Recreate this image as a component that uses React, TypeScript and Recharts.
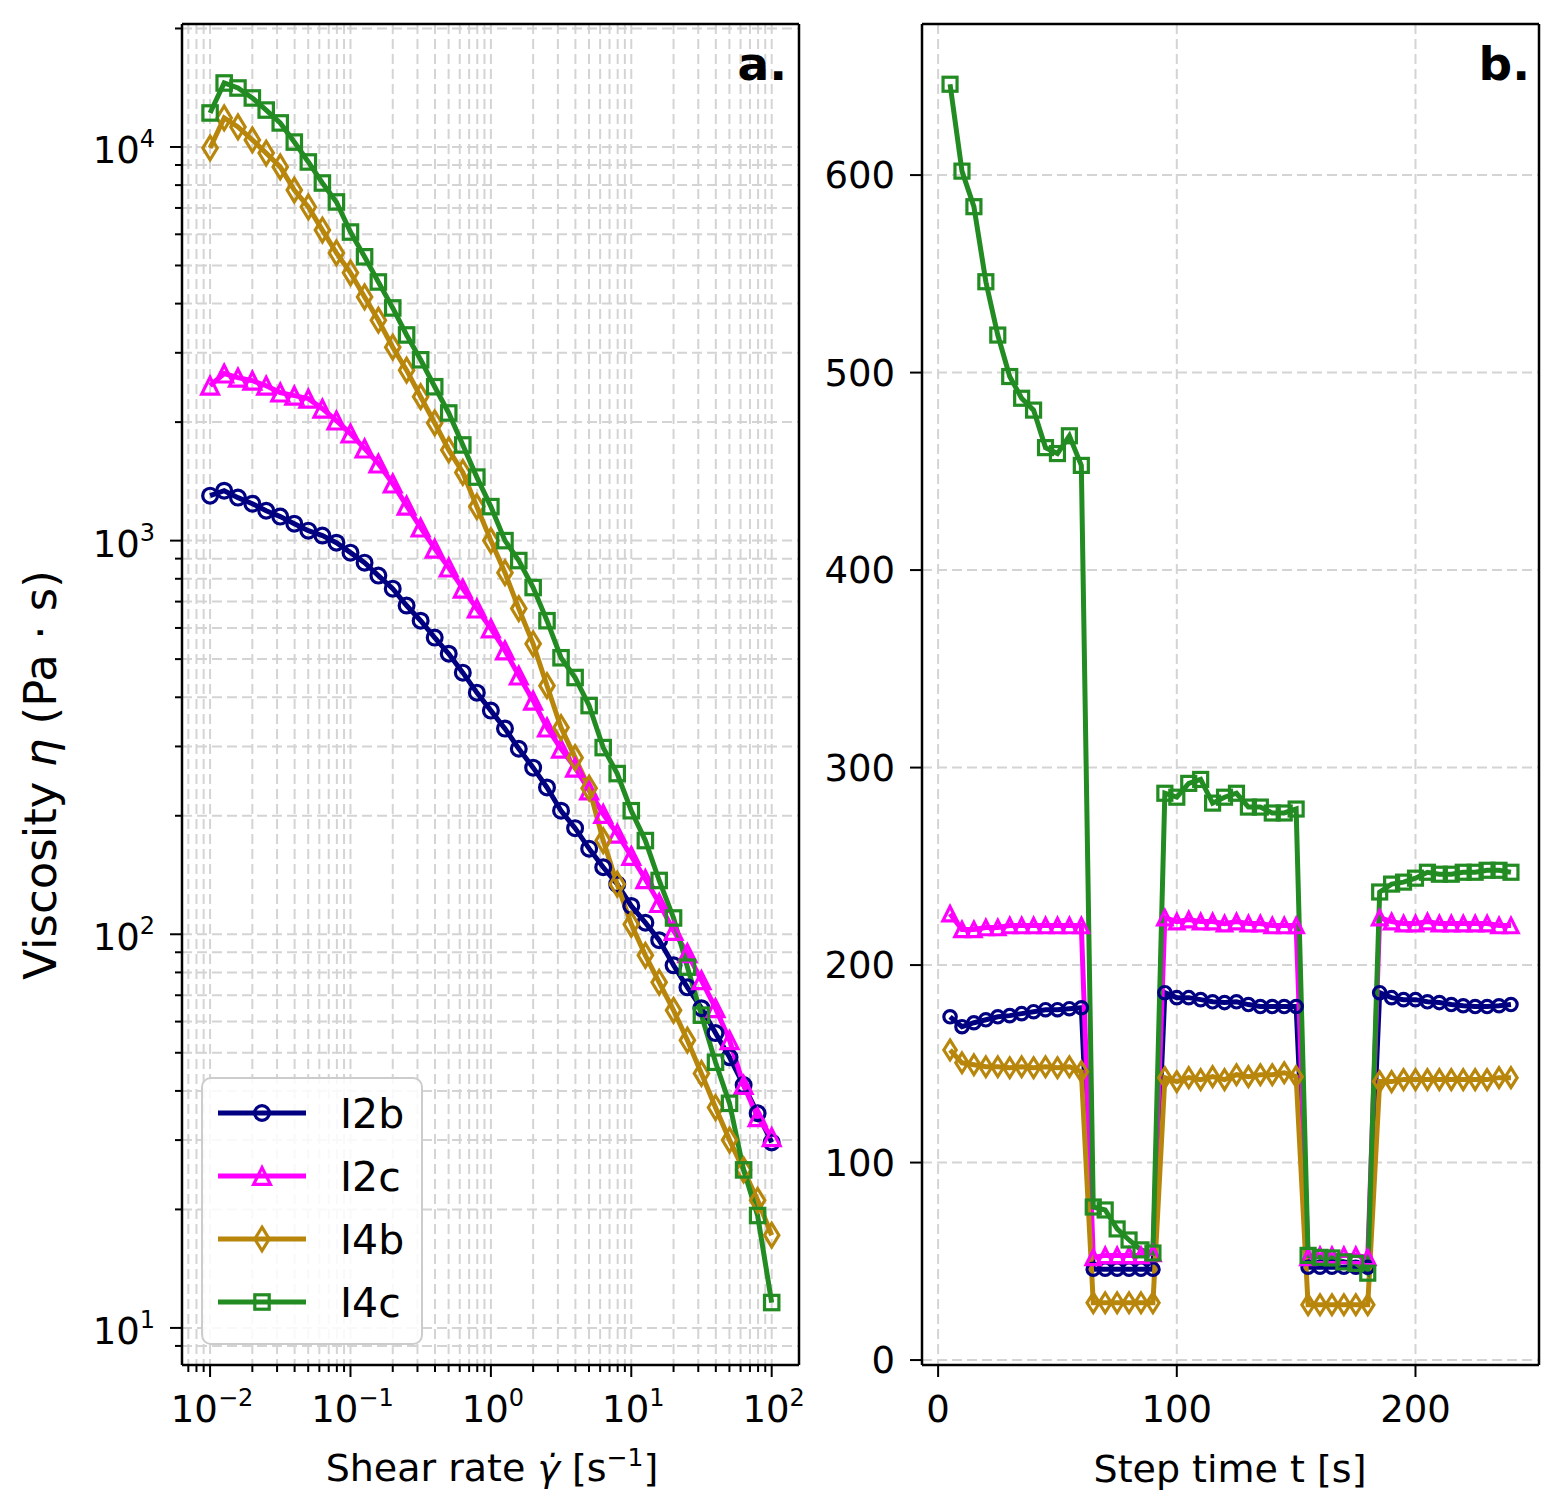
import React from 'react';
import { LineChart, Line, XAxis, YAxis, CartesianGrid, Legend, Customized, ReferenceLine } from 'recharts';

const FONT = '"DejaVu Sans", sans-serif';

// ---- Panel a: viscosity vs shear rate ----
const shearRate = [
  0.01, 0.0126, 0.0158, 0.02, 0.0251, 0.0316, 0.0398, 0.0501, 0.0631, 0.0794,
  0.1, 0.126, 0.158, 0.2, 0.251, 0.316, 0.398, 0.501, 0.631, 0.794,
  1, 1.26, 1.58, 2, 2.51, 3.16, 3.98, 5.01, 6.31, 7.94,
  10, 12.6, 15.8, 20, 25.1, 31.6, 39.8, 50.1, 63.1, 79.4, 100,
];
const etaI2b = [1301, 1339, 1286, 1241, 1191, 1151, 1104, 1060, 1030, 988, 932, 879, 815, 755, 684, 626, 567, 516, 462, 411, 370, 333, 296, 265, 236, 206, 186, 165, 148, 134, 118, 107, 96.6, 83.4, 73.3, 64.9, 56.1, 48.7, 41.4, 35.1, 29.6];
const etaI2c = [2475, 2656, 2594, 2548, 2475, 2377, 2335, 2294, 2164, 2018, 1870, 1713, 1569, 1396, 1227, 1079, 954, 854, 755, 672, 598, 526, 454, 392, 335, 296, 265, 232, 202, 180, 158, 138, 120, 102, 89.5, 76.4, 64.9, 53.8, 41.4, 34.3, 30.5];
const etaI4b = [9940, 11850, 11240, 10420, 9650, 8900, 7770, 7040, 6150, 5380, 4790, 4160, 3630, 3100, 2710, 2320, 1990, 1700, 1490, 1220, 1000, 829, 672, 547, 428, 335, 281, 235, 173, 134, 106, 88.4, 75.5, 64.1, 53.8, 44.3, 36.3, 30.0, 25.2, 21.1, 17.2];
const etaI4c = [12200, 14540, 14120, 13320, 12410, 11510, 10290, 9160, 8100, 7250, 6080, 5260, 4540, 3900, 3330, 2880, 2460, 2110, 1750, 1450, 1220, 1000, 890, 760, 626, 504, 449, 381, 298, 256, 206, 173, 137, 110, 82.5, 62.3, 47.3, 37.2, 25.2, 19.3, 11.6];

// ---- Panel b: viscosity vs step time ----
const stepTime = [
  5, 10, 15, 20, 25, 30, 35, 40, 45, 50, 55, 60,
  65, 70, 75, 80, 85, 90,
  95, 100, 105, 110, 115, 120, 125, 130, 135, 140, 145, 150,
  155, 160, 165, 170, 175, 180,
  185, 190, 195, 200, 205, 210, 215, 220, 225, 230, 235, 240,
];
const stepI2b = [
  173.8, 168.8, 170.8, 172.3, 173.8, 174.4, 175.4, 176.4, 177.4, 177.4, 177.9, 178.4,
  46, 46, 46, 46, 46, 46,
  186, 183.5, 183.5, 182.5, 181.4, 181, 181.4, 180, 179, 179, 179, 179,
  47, 47, 47, 47, 47, 47,
  186, 183.5, 182.5, 182.5, 181.4, 181, 180, 179.4, 179, 179, 179.4, 180,
];
const stepI2c = [
  226, 218, 218, 219, 219, 220, 220, 220, 220, 220, 220, 220,
  52, 53, 53, 53, 53, 54,
  224, 222, 223, 222, 222, 221, 222, 221, 221, 220, 220, 220,
  52, 53, 53, 53, 53, 52,
  224, 222, 221, 221, 222, 221, 221, 221, 221, 221, 220, 220,
];
const stepI4b = [
  157, 150.5, 149.5, 148.5, 148.5, 148, 148.5, 148, 148.5, 148, 148.5, 146,
  29, 29, 29, 29, 29, 29,
  143, 141, 143, 142, 143.5, 142, 144.5, 143.5, 144.5, 144.5, 145.5, 143.5,
  28, 28, 28, 28, 28, 28,
  141, 141, 142, 142, 142, 142, 142, 142, 142, 142, 143, 143,
];
const stepI4c = [
  646, 602, 584, 546, 519, 498, 487, 481, 462, 459, 468, 453,
  77.5, 76, 66.4, 60.8, 55.8, 54.2,
  287, 285, 292, 294, 282, 285, 287, 280, 280, 277, 277, 279,
  53, 52, 51.7, 49.7, 49, 44,
  237, 241, 242, 244, 247, 246, 246, 247, 247, 248, 248, 247,
];

const seriesNames = ['I2b', 'I2c', 'I4b', 'I4c'];
const seriesColors = ['#000080', '#ff00ff', '#b8860b', '#228b22'];
const seriesShapes = ['circle', 'triangle', 'diamond', 'square'];

// ---- Ticks ----
const xLogTicks = [
  0.007, 0.008, 0.009, 0.01, 0.02, 0.03, 0.04, 0.05, 0.06, 0.07, 0.08, 0.09,
  0.1, 0.2, 0.3, 0.4, 0.5, 0.6, 0.7, 0.8, 0.9,
  1, 2, 3, 4, 5, 6, 7, 8, 9,
  10, 20, 30, 40, 50, 60, 70, 80, 90, 100,
];
const yLogTicks = [
  9, 10, 20, 30, 40, 50, 60, 70, 80, 90,
  100, 200, 300, 400, 500, 600, 700, 800, 900,
  1000, 2000, 3000, 4000, 5000, 6000, 7000, 8000, 9000,
  10000, 20000,
];
const stepXTicks = [0, 100, 200];
const stepYTicks = [0, 100, 200, 300, 400, 500, 600];

const leftXDomain = [0.00631, 156.5];
const leftYDomain = [8.05, 20530];
const rightXDomain = [-6.75, 251.75];
const rightYDomain = [-2.5, 676.5];

const leftData = shearRate.map((x, i) => ({
  x, I2b: etaI2b[i], I2c: etaI2c[i], I4b: etaI4b[i], I4c: etaI4c[i],
}));
const rightData = stepTime.map((t, i) => ({
  t, I2b: stepI2b[i], I2c: stepI2c[i], I4b: stepI4b[i], I4c: stepI4c[i],
}));

type Sz = { r: number; tri: number; dw: number; dh: number; sq: number; sw: number };
const leftSz: Sz = { r: 7.4, tri: 8.4, dw: 7.2, dh: 11.8, sq: 7.2, sw: 3.2 };
const rightSz: Sz = { r: 6.2, tri: 7.2, dw: 6.2, dh: 9.8, sq: 7, sw: 3.2 };

function Marker({ shape, cx, cy, color, sz }: { shape: string; cx: number; cy: number; color: string; sz: Sz }) {
  const common = { fill: 'none', stroke: color, strokeWidth: sz.sw };
  if (shape === 'circle') return <circle cx={cx} cy={cy} r={sz.r} {...common} />;
  if (shape === 'triangle') {
    const s = sz.tri;
    return <polygon points={`${cx},${cy - s} ${cx - s},${cy + s} ${cx + s},${cy + s}`} {...common} />;
  }
  if (shape === 'diamond') {
    return (
      <polygon
        points={`${cx},${cy - sz.dh} ${cx + sz.dw},${cy} ${cx},${cy + sz.dh} ${cx - sz.dw},${cy}`}
        {...common}
      />
    );
  }
  return <rect x={cx - sz.sq} y={cy - sz.sq} width={2 * sz.sq} height={2 * sz.sq} {...common} />;
}

const makeDot = (shape: string, color: string, sz: Sz) => (p: any) => {
  if (p.cx == null || p.cy == null || isNaN(p.cx) || isNaN(p.cy)) return <g key={p.index} />;
  return <Marker key={p.index} shape={shape} cx={p.cx} cy={p.cy} color={color} sz={sz} />;
};

const isMajorLog = (v: number) => {
  const l = Math.log10(v);
  return Math.abs(l - Math.round(l)) < 1e-6;
};
const expLabel = (v: number) => {
  const e = Math.round(Math.log10(v));
  return e < 0 ? `\u2212${-e}` : `${e}`;
};

const LogYTick = (props: any) => {
  const { x, y, payload } = props;
  const v = payload.value;
  const major = isMajorLog(v);
  return (
    <g>
      <line x1={x - (major ? 12 : 7)} x2={x} y1={y} y2={y} stroke="#000" strokeWidth={2} />
      {major && (
        <text x={x - 27} y={y + 16} textAnchor="end" fontFamily={FONT} fontSize={37} fill="#000">
          <tspan>10</tspan>
          <tspan dy={-16} fontSize={24}>{expLabel(v)}</tspan>
        </text>
      )}
    </g>
  );
};

const LogXTick = (props: any) => {
  const { x, y, payload } = props;
  const v = payload.value;
  const major = isMajorLog(v);
  return (
    <g>
      <line x1={x} x2={x} y1={y} y2={y + (major ? 12 : 7)} stroke="#000" strokeWidth={2} />
      {major && (
        <text x={x + 2} y={y + 57} textAnchor="middle" fontFamily={FONT} fontSize={37} fill="#000">
          <tspan>10</tspan>
          <tspan dy={-16} fontSize={24}>{expLabel(v)}</tspan>
        </text>
      )}
    </g>
  );
};

const LinYTick = (props: any) => {
  const { x, y, payload } = props;
  return (
    <g>
      <line x1={x - 12} x2={x} y1={y} y2={y} stroke="#000" strokeWidth={2} />
      <text x={x - 27} y={y + 13} textAnchor="end" fontFamily={FONT} fontSize={37} fill="#000">
        {payload.value}
      </text>
    </g>
  );
};

const LinXTick = (props: any) => {
  const { x, y, payload } = props;
  return (
    <g>
      <line x1={x} x2={x} y1={y} y2={y + 12} stroke="#000" strokeWidth={2} />
      <text x={x} y={y + 57} textAnchor="middle" fontFamily={FONT} fontSize={37} fill="#000">
        {payload.value}
      </text>
    </g>
  );
};

const LegendBox = () => (
  <svg width={223} height={269} style={{ display: 'block' }}>
    <rect x={1} y={1} width={220} height={266} rx={9} fill="rgba(255,255,255,0.85)" stroke="#cccccc" strokeWidth={2} />
    {seriesNames.map((n, i) => {
      const cy = 36 + i * 63;
      return (
        <g key={n}>
          <line x1={17} x2={105} y1={cy} y2={cy} stroke={seriesColors[i]} strokeWidth={5} />
          <Marker shape={seriesShapes[i]} cx={61} cy={cy} color={seriesColors[i]} sz={leftSz} />
          <text x={139} y={cy + 15} fontFamily={FONT} fontSize={41} fill="#000">{n}</text>
        </g>
      );
    })}
  </svg>
);

const gridStroke = '#d4d4d4';
const axisLine = { stroke: '#000', strokeWidth: 2.5 };
const LINE_W = 5;

export default function App() {
  return (
    <div style={{ position: 'absolute', left: 0, top: 0, width: 1557, height: 1510, background: '#fff', fontFamily: FONT }}>
      {/* Panel a */}
      <div style={{ position: 'absolute', left: 0, top: 0 }}>
        <LineChart width={810} height={1510} data={leftData} margin={{ top: 24, right: 11, left: 0, bottom: 0 }}>
          <CartesianGrid stroke={gridStroke} strokeWidth={2} strokeDasharray="10 5" />
          <XAxis
            dataKey="x"
            type="number"
            scale="log"
            domain={leftXDomain}
            allowDataOverflow
            ticks={xLogTicks}
            interval={0}
            tickSize={0}
            tickMargin={0}
            tickLine={false}
            axisLine={axisLine}
            tick={<LogXTick />}
            height={145}
            label={{
              content: () => (
                <text x={492} y={1481} textAnchor="middle" fontFamily={FONT} fontSize={38} fill="#000">
                  <tspan>Shear rate </tspan>
                  <tspan fontStyle="italic">{'\u03B3\u0307'}</tspan>
                  <tspan> [s</tspan>
                  <tspan dy={-15} fontSize={25}>{'\u22121'}</tspan>
                  <tspan dy={15}>]</tspan>
                </text>
              ),
            }}
          />
          <YAxis
            type="number"
            scale="log"
            domain={leftYDomain}
            allowDataOverflow
            ticks={yLogTicks}
            interval={0}
            tickSize={0}
            tickMargin={0}
            tickLine={false}
            axisLine={axisLine}
            tick={<LogYTick />}
            width={182}
            label={{
              content: () => (
                <text transform="translate(56,775) rotate(-90)" textAnchor="middle" fontFamily={FONT} fontSize={45} fill="#000">
                  <tspan>Viscosity </tspan>
                  <tspan fontStyle="italic">{'\u03B7'}</tspan>
                  <tspan> (Pa {'\u00B7'} s)</tspan>
                </text>
              ),
            }}
          />
          <ReferenceLine y={leftYDomain[1]} stroke="#000" strokeWidth={2.5} ifOverflow="extendDomain" />
          <ReferenceLine x={leftXDomain[1]} stroke="#000" strokeWidth={2.5} ifOverflow="extendDomain" />
          {seriesNames.map((n, i) => (
            <Line
              key={n}
              dataKey={n}
              type="linear"
              stroke={seriesColors[i]}
              strokeWidth={LINE_W}
              dot={makeDot(seriesShapes[i], seriesColors[i], leftSz)}
              activeDot={false}
              isAnimationActive={false}
              legendType="none"
            />
          ))}
          <Legend
            layout="horizontal"
            verticalAlign="middle"
            align="center"
            content={() => <LegendBox />}
            wrapperStyle={{ left: 201, top: 1077, width: 223, height: 269, margin: 0 }}
          />
          <Customized
            component={() => (
              <text x={787} y={80} textAnchor="end" fontFamily={FONT} fontWeight="bold" fontSize={47} fill="#000">a.</text>
            )}
          />
        </LineChart>
      </div>

      {/* Panel b */}
      <div style={{ position: 'absolute', left: 810, top: 0 }}>
        <LineChart width={747} height={1510} data={rightData} margin={{ top: 24, right: 18, left: 0, bottom: 0 }}>
          <CartesianGrid stroke={gridStroke} strokeWidth={2} strokeDasharray="10 5" />
          <XAxis
            dataKey="t"
            type="number"
            domain={rightXDomain}
            allowDataOverflow
            ticks={stepXTicks}
            interval={0}
            tickSize={0}
            tickMargin={0}
            tickLine={false}
            axisLine={axisLine}
            tick={<LinXTick />}
            height={145}
            label={{
              content: () => (
                <text x={420} y={1482} textAnchor="middle" fontFamily={FONT} fontSize={38} fill="#000">
                  Step time t [s]
                </text>
              ),
            }}
          />
          <YAxis
            type="number"
            domain={rightYDomain}
            allowDataOverflow
            ticks={stepYTicks}
            interval={0}
            tickSize={0}
            tickMargin={0}
            tickLine={false}
            axisLine={axisLine}
            tick={<LinYTick />}
            width={112}
          />
          <ReferenceLine y={rightYDomain[1]} stroke="#000" strokeWidth={2.5} ifOverflow="extendDomain" />
          <ReferenceLine x={rightXDomain[1]} stroke="#000" strokeWidth={2.5} ifOverflow="extendDomain" />
          {seriesNames.map((n, i) => (
            <Line
              key={n}
              dataKey={n}
              type="linear"
              stroke={seriesColors[i]}
              strokeWidth={LINE_W}
              dot={makeDot(seriesShapes[i], seriesColors[i], rightSz)}
              activeDot={false}
              isAnimationActive={false}
              legendType="none"
            />
          ))}
          <Customized
            component={() => (
              <text x={720} y={80} textAnchor="end" fontFamily={FONT} fontWeight="bold" fontSize={47} fill="#000">b.</text>
            )}
          />
        </LineChart>
      </div>
    </div>
  );
}
